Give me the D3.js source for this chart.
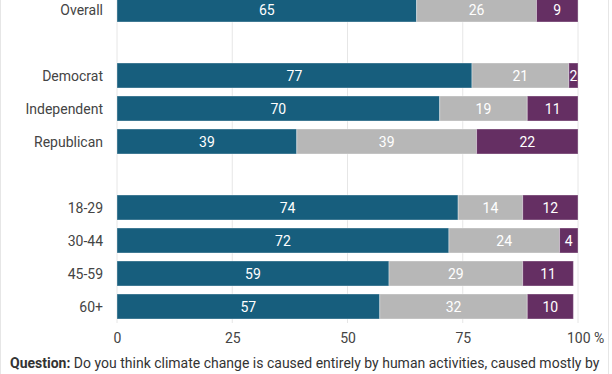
<!DOCTYPE html>
<html>
<head>
<meta charset="utf-8">
<script src="https://cdn.jsdelivr.net/npm/d3@7"></script>
<style>
  html, body { margin: 0; padding: 0; background: #fff; }
  svg { display: block; font-family: Roboto, "Noto Sans", sans-serif; }
</style>
</head>
<body>
<svg id="chart" width="612" height="374"></svg>
<script>
// rows of the chart, gaps are empty slots between groups
const rows = ["Overall", "gap1", "Democrat", "Independent", "Republican", "gap2", "18-29", "30-44", "45-59", "60+"];
const human = [65, null, 77, 70, 39, null, 74, 72, 59, 57];
const partly = [26, null, 21, 19, 39, null, 14, 24, 29, 32];
const natural = [9, null, 2, 11, 22, null, 12, 4, 11, 10];
const ticks = [0, 25, 50, 75, 100];
const colors = ["#175e7d", "#b7b7b7", "#652f63"];
const question = "Do you think climate change is caused entirely by human activities, caused mostly by";
const question2 = "human activities and partly by natural changes, caused mostly by natural changes, or";

const svg = d3.select("#chart");
const W = 612, H = 374;

// light page border
svg.append("rect").attr("x", 0.5).attr("y", -10).attr("width", W - 4).attr("height", H + 20)
  .attr("fill", "none").attr("stroke", "#e6e6e6");

const x = d3.scaleLinear().domain([0, 100]).range([117, 578]);
const y = d3.scaleBand().domain(rows).range([-3, 319]).paddingInner(8 / 33).paddingOuter(0);

// gridlines
svg.append("g").selectAll("line").data(ticks).join("line")
  .attr("x1", d => x(d)).attr("x2", d => x(d))
  .attr("y1", 0).attr("y2", 323)
  .attr("stroke", "#e6e6e6").attr("stroke-width", 1);

// x axis labels
const axis = d3.axisBottom(x).tickValues(ticks).tickSize(0).tickPadding(0)
  .tickFormat(d => d === 100 ? "100 %" : d);
const ax = svg.append("g").attr("transform", "translate(0,333)").call(axis);
ax.select(".domain").remove();
ax.selectAll("text").attr("font-size", 14).attr("fill", "#444")
  .attr("font-family", "Roboto, sans-serif");
ax.selectAll("text").filter(d => d === 100).attr("text-anchor", "start").attr("dx", -11.5);

// stacked segments
const data = rows.map((r, i) => ({ row: r, vals: [human[i], partly[i], natural[i]] }))
  .filter(d => d.vals[0] !== null);

const segs = [];
data.forEach(d => {
  let acc = 0;
  d.vals.forEach((v, k) => {
    segs.push({ row: d.row, k: k, v: v, x0: acc, x1: acc + v });
    acc += v;
  });
});

const g = svg.append("g");
g.selectAll("rect").data(segs).join("rect")
  .attr("x", d => x(d.x0)).attr("width", d => x(d.x1) - x(d.x0))
  .attr("y", d => y(d.row)).attr("height", y.bandwidth())
  .attr("fill", d => colors[d.k])
  .attr("stroke", "#ffffff").attr("stroke-opacity", 0.35).attr("stroke-width", 1);

g.selectAll("text").data(segs).join("text")
  .attr("x", d => (x(d.x0) + x(d.x1)) / 2)
  .attr("y", d => y(d.row) + y.bandwidth() / 2)
  .attr("dy", "0.36em")
  .attr("text-anchor", "middle")
  .attr("font-size", 14).attr("fill", "#fff")
  .text(d => d.v);

// row labels
svg.append("g").selectAll("text").data(data).join("text")
  .attr("x", 103)
  .attr("y", d => y(d.row) + y.bandwidth() / 2)
  .attr("dy", "0.36em")
  .attr("text-anchor", "end")
  .attr("font-size", 14).attr("fill", "#444")
  .text(d => d.row);

// question note (second line runs off the bottom, as in the source)
const q = svg.append("text").attr("x", 10).attr("y", 368).attr("font-size", 14).attr("fill", "#333");
q.append("tspan").attr("font-weight", "bold").text("Question:");
q.append("tspan").text(" " + question);
svg.append("text").attr("x", 10).attr("y", 385).attr("font-size", 14).attr("fill", "#333").text(question2);
</script>
</body>
</html>
